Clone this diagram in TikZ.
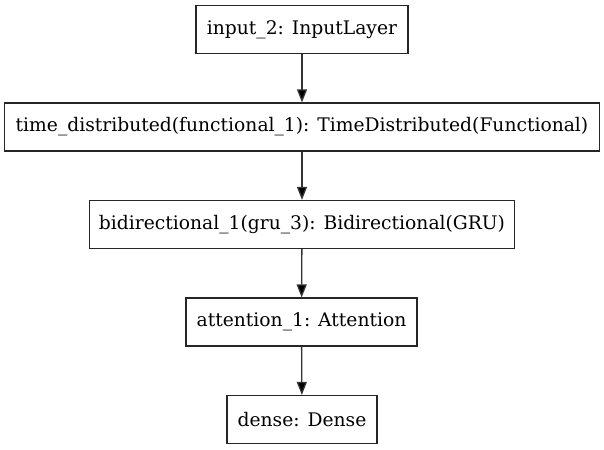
\documentclass[tikz,border=0pt]{standalone}
\usepackage{fontspec}
\setmainfont{DejaVu Serif}
\usetikzlibrary{arrows.meta}
\begin{document}
\begin{tikzpicture}[x=1pt,y=1pt,
  layer/.style={draw=black!85, line width=1.2pt, fill=white, inner sep=0pt,
    minimum height=48pt, font=\fontsize{18.7}{22}\selectfont},
  conn/.style={draw=black!80, line width=1.3pt, -{Triangle[length=13pt,width=10pt,fill=black]}}]
\useasboundingbox (0,0) rectangle (604,449);
\node[layer, minimum width=212pt] (in) at (302,419.5) {input\_2: InputLayer};
\node[layer, minimum width=594.6pt] (td) at (302,322) {time\_distributed(functional\_1): TimeDistributed(Functional)};
\node[layer, minimum width=425pt] (bi) at (302,224.5) {bidirectional\_1(gru\_3): Bidirectional(GRU)};
\node[layer, minimum width=231pt] (at) at (301.5,127) {attention\_1: Attention};
\node[layer, minimum width=150pt] (de) at (302,29.5) {dense: Dense};
\draw[conn] (in) -- (td);
\draw[conn] (td) -- (bi);
\draw[conn] (bi) -- (at);
\draw[conn] (at) -- (de);
\end{tikzpicture}
\end{document}
